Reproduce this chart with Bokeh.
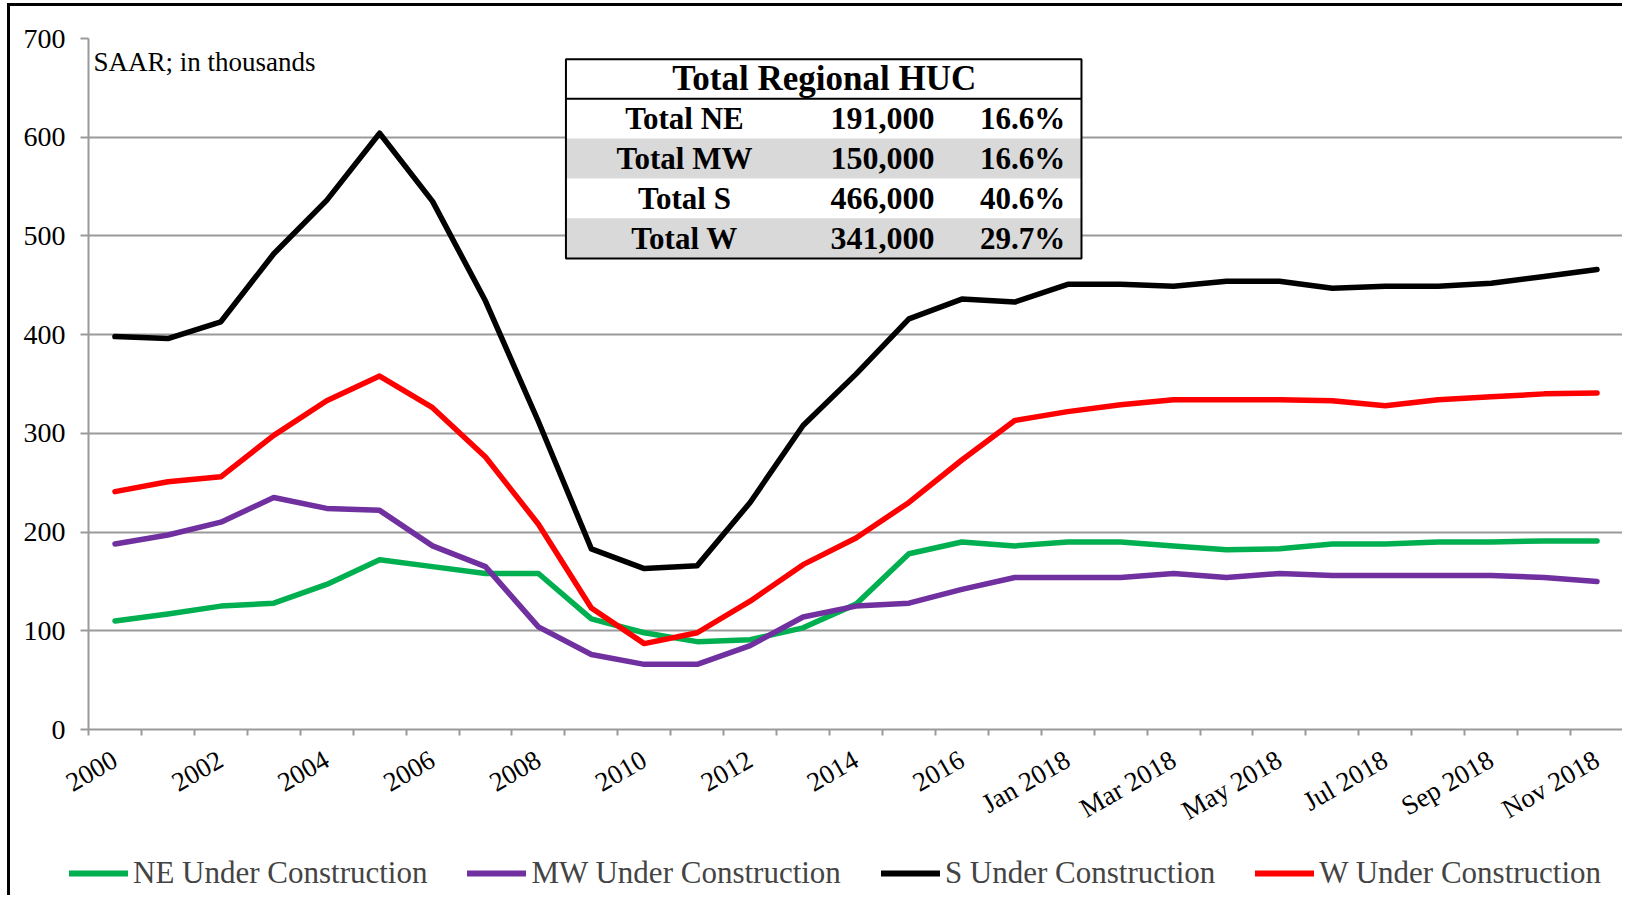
import math
from bokeh.plotting import figure
from bokeh.models import FixedTicker, Legend, LegendItem, Label, ColumnDataSource, Range1d
from bokeh.embed import file_html
from bokeh.resources import INLINE
from bokeh.core.properties import value

# ---------------- data ----------------
categories = ["2000", "2001", "2002", "2003", "2004", "2005", "2006", "2007", "2008",
              "2009", "2010", "2011", "2012", "2013", "2014", "2015", "2016", "Dec 2017",
              "Jan 2018", "Feb 2018", "Mar 2018", "Apr 2018", "May 2018", "Jun 2018",
              "Jul 2018", "Aug 2018", "Sep 2018", "Oct 2018", "Nov 2018"]

ne_values = [110, 117, 125, 128, 147, 172, 165, 158, 158, 112, 98, 89, 91, 103, 127,
             178, 190, 186, 190, 190, 186, 182, 183, 188, 188, 190, 190, 191, 191]
mw_values = [188, 197, 210, 235, 224, 222, 186, 165, 104, 76, 66, 66, 85, 114, 125,
             128, 142, 154, 154, 154, 158, 154, 158, 156, 156, 156, 156, 154, 150]
s_values = [398, 396, 413, 482, 536, 604, 535, 434, 312, 183, 163, 166, 230, 308, 360,
            416, 436, 433, 451, 451, 449, 454, 454, 447, 449, 449, 452, 459, 466]
w_values = [241, 251, 256, 298, 333, 358, 326, 276, 208, 123, 87, 98, 130, 167, 194,
            230, 273, 313, 322, 329, 334, 334, 334, 333, 328, 334, 337, 340, 341]

series_names = ["NE Under Construction", "MW Under Construction",
                "S Under Construction", "W Under Construction"]
series_colors = ["#00B050", "#7030A0", "#000000", "#FF0000"]

y_ticks = [0, 100, 200, 300, 400, 500, 600, 700]

table_title = "Total Regional HUC"
table_labels = ["Total NE", "Total MW", "Total S", "Total W"]
table_counts = ["191,000", "150,000", "466,000", "341,000"]
table_pcts = ["16.6%", "16.6%", "40.6%", "29.7%"]

subtitle = "SAAR; in thousands"

# ---------------- figure ----------------
n = len(categories)
xs = list(range(n))
all_series = [ne_values, mw_values, s_values, w_values]
SERIF = "Liberation Serif"
GRAY = "#9A9A9A"
LW = 5.5

p = figure(width=1615, height=838, output_backend="svg", toolbar_location=None,
           x_range=(-0.5, n - 0.5), y_range=(0, 700),
           min_border_left=78, min_border_right=2, min_border_top=32, min_border_bottom=115)
p.styles = {"margin-left": "7px", "margin-top": "3px",
            "border-left": "3px solid black", "border-top": "3px solid black"}
p.outline_line_color = None
p.background_fill_color = "white"
p.border_fill_color = "white"

# x axis
p.xaxis.ticker = FixedTicker(ticks=list(range(0, n, 2)),
                             minor_ticks=[i - 0.5 for i in range(n + 1)])
p.xaxis.major_label_overrides = {i: categories[i] for i in range(0, n, 2)}
p.xaxis.major_tick_line_color = None
p.xaxis.major_tick_out = 6
p.xaxis.major_tick_in = 0
p.xaxis.minor_tick_line_color = GRAY
p.xaxis.minor_tick_line_width = 2
p.xaxis.minor_tick_out = 6
p.xaxis.minor_tick_in = 0
p.xaxis.axis_line_color = GRAY
p.xaxis.axis_line_width = 2
p.xaxis.major_label_orientation = math.radians(30)
p.xaxis.major_label_text_font = SERIF
p.xaxis.major_label_text_font_size = "27px"
p.xaxis.major_label_text_color = "black"
p.xaxis.major_label_standoff = 22

# y axis
p.yaxis.ticker = FixedTicker(ticks=y_ticks)
p.yaxis.minor_tick_line_color = None
p.yaxis.major_tick_line_color = GRAY
p.yaxis.major_tick_line_width = 2
p.yaxis.major_tick_out = 8
p.yaxis.major_tick_in = 0
p.yaxis.axis_line_color = GRAY
p.yaxis.axis_line_width = 2
p.yaxis.major_label_text_font = SERIF
p.yaxis.major_label_text_font_size = "28px"
p.yaxis.major_label_text_color = "black"
p.yaxis.major_label_standoff = 15

p.xgrid.grid_line_color = None
p.ygrid.grid_line_color = GRAY
p.ygrid.grid_line_width = 2
p.ygrid.ticker = FixedTicker(ticks=y_ticks)

# lines
for vals, col in zip(all_series, series_colors):
    p.line(xs, vals, line_color=col, line_width=LW, line_cap="round", line_join="round")

# subtitle
p.add_layout(Label(x=-0.5, y=700, x_offset=5, y_offset=-8, text=subtitle,
                   text_font=SERIF, text_font_size="27px", text_baseline="top",
                   text_color="black"))

# table
t_left, t_right = 8.52, 18.26
row_edges = [679, 639, 598.6, 558.2, 517.8, 477.2]
gray_rows = [i for i in range(len(table_labels)) if i % 2 == 1]
p.quad(left=[t_left], right=[t_right], top=[row_edges[0]], bottom=[row_edges[-1]],
       fill_color="white", line_color=None)
p.quad(left=[t_left] * len(gray_rows), right=[t_right] * len(gray_rows),
       top=[row_edges[i + 1] for i in gray_rows], bottom=[row_edges[i + 2] for i in gray_rows],
       fill_color="#D9D9D9", line_color=None)
p.segment(x0=[t_left], x1=[t_right], y0=[row_edges[1]], y1=[row_edges[1]],
          line_color="black", line_width=2)
p.quad(left=[t_left], right=[t_right], top=[row_edges[0]], bottom=[row_edges[-1]],
       fill_color=None, line_color="black", line_width=2)

p.text(x=[13.4], y=[(row_edges[0] + row_edges[1]) / 2], text=[table_title],
       text_font=value(SERIF), text_font_size="35px", text_font_style="bold",
       text_align="center", text_baseline="middle", text_color="black")
mids = [(row_edges[i + 1] + row_edges[i + 2]) / 2 for i in range(len(table_labels))]
src = ColumnDataSource(dict(y=mids, lab=table_labels, cnt=table_counts, pct=table_pcts))
for col, xc, fs in [("lab", 10.76, "31px"), ("cnt", 14.5, "32px"), ("pct", 17.15, "31px")]:
    p.text(x=xc, y="y", text=col, source=src, text_font=value(SERIF), text_font_size=fs,
           text_font_style="bold", text_align="center", text_baseline="middle", text_color="black")

# ---------------- legend strip ----------------
# same series drawn in a strip whose y range hides them; only the legend is visible
lg = figure(width=1615, height=54, output_backend="svg", toolbar_location=None,
            x_range=Range1d(-0.5, n - 0.5), y_range=Range1d(-20, -10),
            x_axis_location=None, y_axis_location=None,
            min_border_left=0, min_border_right=0, min_border_top=0, min_border_bottom=0)
lg.styles = {"margin-left": "7px", "border-left": "3px solid black"}
lg.grid.visible = False
lg.outline_line_color = None
lg.background_fill_color = "white"
lg.border_fill_color = "white"
leg_renderers = [lg.line(xs, vals, line_color=c, line_width=LW + 0.5, line_cap="round")
                 for vals, c in zip(all_series, series_colors)]
legend = Legend(items=[LegendItem(label=nm, renderers=[r]) for nm, r in zip(series_names, leg_renderers)],
                orientation="horizontal", location=(59, 4),
                label_text_font=SERIF, label_text_font_size="31px",
                glyph_width=59, glyph_height=30, label_height=30,
                label_standoff=5, spacing=40, padding=0, margin=0,
                border_line_color=None, background_fill_alpha=0)
lg.add_layout(legend)

open("out.html", "w").write(file_html([p, lg], INLINE))
